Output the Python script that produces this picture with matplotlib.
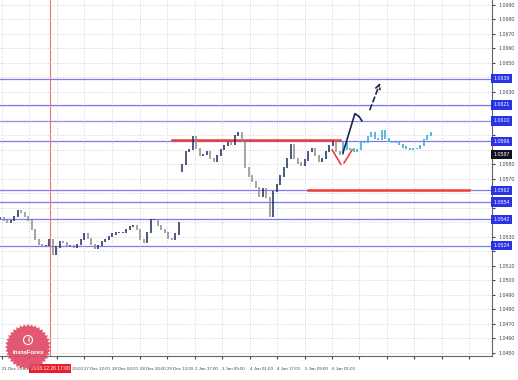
import matplotlib
matplotlib.use("Agg")
import matplotlib.pyplot as plt
import matplotlib.transforms as mtransforms
from matplotlib.patches import Polygon
import numpy as np

plt.rcParams["font.family"] = ["Liberation Sans Narrow", "Liberation Sans", "DejaVu Sans"]

# closes of the price bars (one bar every 2 hours)
history = [1.0543, 1.0541, 1.0540, 1.0541, 1.0544, 1.0548, 1.0547, 1.0544, 1.0541, 1.0535,
           1.0528, 1.0525, 1.0524, 1.0524, 1.0528, 1.0518, 1.0523, 1.0527, 1.0526, 1.0524,
           1.0524, 1.0523, 1.0525, 1.0528, 1.0532, 1.0529, 1.0525, 1.0522, 1.0524, 1.0527,
           1.0528, 1.0530, 1.0532, 1.0533, 1.0533, 1.0533, 1.0535, 1.0537, 1.0538, 1.0535,
           1.0528, 1.0526, 1.0533, 1.0542, 1.0542, 1.0538, 1.0535, 1.0533, 1.0529, 1.0528,
           1.0532, 1.0540, 1.0580, 1.0589, 1.0590, 1.0599, 1.0591, 1.0586, 1.0587, 1.0589,
           1.0584, 1.0582, 1.0586, 1.0590, 1.0593, 1.0595, 1.0594, 1.0600, 1.0602, 1.0596,
           1.0578, 1.0572, 1.0568, 1.0564, 1.0558, 1.0563, 1.0557, 1.0544, 1.0561, 1.0566,
           1.0572, 1.0578, 1.0584, 1.0594, 1.0584, 1.0581, 1.0579, 1.0583, 1.0589, 1.0591,
           1.0586, 1.0582, 1.0584, 1.0589, 1.0593, 1.0596, 1.0589, 1.0587]
# first bar after the new-year gap opens here
gap_bar = 52
gap_open = 1.0575

# projected path (cyan bars)
forecast = [1.0595, 1.0590, 1.0591, 1.0589, 1.0590, 1.0595, 1.0595, 1.0599, 1.0602, 1.0598,
            1.0597, 1.0603, 1.0598, 1.0596, 1.0595, 1.0595, 1.0594, 1.0592, 1.0591, 1.0590,
            1.0591, 1.0591, 1.0593, 1.0597, 1.0600, 1.0602]

# horizontal levels
blue_levels = [1.0639, 1.0621, 1.0610, 1.0596, 1.0562, 1.0554, 1.0542, 1.0524]
red_levels = [1.0597, 1.0562]
red_starts = [49, 88]
red_ends = [97, 134]

marker_bar = 14.3
marker_label = "2016.12.26 17:00"

date_ticks = [0.5, 8.4, 16.3, 24.1, 32, 39.9, 47.7, 55.6, 63.4, 71.3, 79.1, 87, 94.9,
              102.7, 110.6, 118.4, 126.3, 134.1]
date_labels = ["21 Dec 23:00", "26 Dec 04:00", "26 Dec 20:00", "27 Dec 12:00", "28 Dec 04:00",
               "28 Dec 20:00", "29 Dec 12:00", "2 Jan 17:00", "3 Jan 09:00", "4 Jan 01:00",
               "4 Jan 17:00", "5 Jan 09:00", "6 Jan 01:00", "", "", "", "", ""]
price_ticks = [1.0450, 1.0460, 1.0470, 1.0480, 1.0490, 1.0500, 1.0510, 1.0520, 1.0530,
               1.0540, 1.0550, 1.0560, 1.0570, 1.0580, 1.0590, 1.0600, 1.0610, 1.0620,
               1.0630, 1.0640, 1.0650, 1.0660, 1.0670, 1.0680, 1.0690]

# scenario sketch
up_x = [98.0, 101.4, 102.6, 103.4]
up_y = [1.0588, 1.0615, 1.0613, 1.0610]
up_dash_x = [105.4, 108.9]
up_dash_y = [1.0616, 1.0638]
red_v1_x = [94.9, 97.4]
red_v1_y = [1.0590, 1.0580]
red_v2_x = [98.3, 100.6]
red_v2_y = [1.0581, 1.0590]

fig = plt.figure(figsize=(5.18, 3.80), dpi=100)
ax = fig.add_axes([0, 24 / 380, 492 / 518, 356 / 380])
ax.set_xlim(0, 140.57)
ax.set_ylim(1.04478, 1.06934)

tags = blue_levels + [history[-1]]

# grid and axis labels (labels hidden behind price tags are left blank)
ax.set_yticks(price_ticks)
ax.set_yticklabels(["" if min(abs(p - t) for t in tags) < 0.0004 else "%.4f" % p
                    for p in price_ticks])
ax.set_xticks(date_ticks)
ax.set_xticklabels(date_labels, ha="left")
ax.grid(True, linestyle=(0, (1, 2)), color="#c4c4c4", linewidth=0.6)
ax.yaxis.tick_right()
ax.tick_params(axis="y", labelsize=3.8, length=2, pad=3, colors="#444444")
ax.tick_params(axis="x", labelsize=3.2, length=2, pad=6, colors="#444444")
for s in ["top", "left"]:
    ax.spines[s].set_visible(False)
for s in ["right", "bottom"]:
    ax.spines[s].set_color("#666666")
    ax.spines[s].set_linewidth(0.8)

# levels
for lv in blue_levels:
    ax.axhline(lv, color="#7a7af2", lw=0.9, zorder=1)
for lv, a, b in zip(red_levels, red_starts, red_ends):
    ax.plot([a, b], [lv, lv], color="#ee3b3b", lw=1.8, zorder=2)
ax.axvline(marker_bar, color="#f07070", lw=0.8, zorder=1)

# price bars
for i, c in enumerate(history):
    o = history[i - 1] if i > 0 else c
    if i == gap_bar:
        o = gap_open
    col = "#1c2b5e" if c >= o else "#8c8c8c"
    lo, hi = min(o, c), max(o, c)
    ax.vlines(i, lo - 0.00004, hi + 0.00004, color=col, lw=1.1, zorder=3)

prev = history[-1]
n0 = len(history)
for j, c in enumerate(forecast):
    lo, hi = min(prev, c), max(prev, c)
    ax.vlines(n0 + j, lo - 0.00004, hi + 0.00004, color="#3bb0d2", lw=1.2, zorder=3)
    prev = c

# scenario lines
ax.plot(up_x, up_y, color="#1c2350", lw=1.2, zorder=4)
ax.annotate("", xy=(up_dash_x[1], up_dash_y[1]), xytext=(up_dash_x[0], up_dash_y[0]),
            arrowprops=dict(arrowstyle="->", color="#1c2350", lw=1.2, linestyle=(0, (3, 2)),
                            mutation_scale=8), zorder=4)
ax.plot(red_v1_x, red_v1_y, color="#ee3030", lw=1.1, zorder=4)
ax.plot(red_v2_x, red_v2_y, color="#ee3030", lw=1.1, zorder=4)

# right-hand price tags
tr = mtransforms.blended_transform_factory(ax.transAxes, ax.transData)
for lv in blue_levels:
    ax.text(1.003, lv, "%.4f" % lv, transform=tr, fontsize=3.8, color="white", va="center",
            ha="left", bbox=dict(boxstyle="square,pad=0.4", fc="#2a32e6", ec="none"),
            zorder=6, clip_on=False)
ax.text(1.003, history[-1], "%.4f" % history[-1], transform=tr, fontsize=3.8, color="white",
        va="center", ha="left", bbox=dict(boxstyle="square,pad=0.4", fc="#111122", ec="none"),
        zorder=6, clip_on=False)

# time tag of the vertical line
trx = mtransforms.blended_transform_factory(ax.transData, ax.transAxes)
ax.text(marker_bar, -0.034, marker_label, transform=trx, fontsize=3.6, color="white",
        ha="center", va="center", bbox=dict(boxstyle="square,pad=0.4", fc="#e8202a", ec="none"),
        zorder=6, clip_on=False)

# logo
lax = fig.add_axes([0, 0, 1, 1], zorder=10)
lax.set_xlim(0, 518)
lax.set_ylim(380, 0)
lax.axis("off")
ang = np.linspace(0, 2 * np.pi, 73)[:-1]
rad = np.where(np.arange(72) % 2 == 0, 23, 20.5)
star = Polygon(np.column_stack([28 + rad * np.cos(ang), 347 + rad * np.sin(ang)]),
               closed=True, fc="#e04a66", ec="none", alpha=0.92)
lax.add_patch(star)
lax.add_patch(plt.Circle((28, 340), 4.5, fc="none", ec="white", lw=0.8))
lax.text(28, 340, "i", color="white", fontsize=5, ha="center", va="center", fontweight="bold")
lax.text(28, 353, "InstaForex", color="white", fontsize=4.5, ha="center", va="center",
         fontweight="bold")

fig.savefig("out.png", dpi=100)
